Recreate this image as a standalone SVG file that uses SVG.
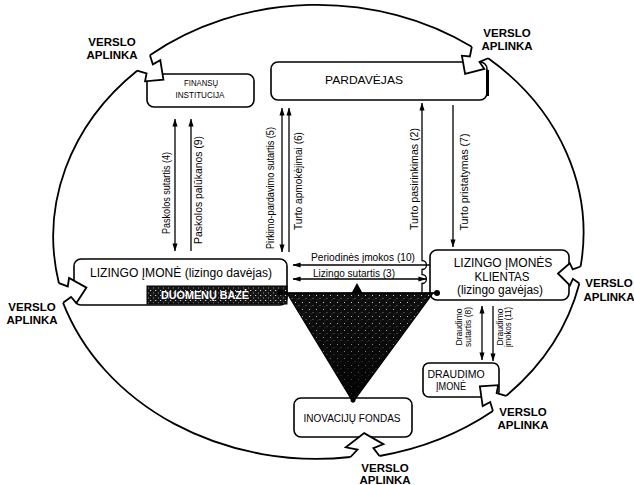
<svg xmlns="http://www.w3.org/2000/svg" xmlns:xlink="http://www.w3.org/1999/xlink" width="634" height="485" viewBox="0 0 634 485">
<style>
.box{fill:#fff;stroke:#000;stroke-width:1.6}
.ring{fill:none;stroke:#000;stroke-width:1.8}
.va{fill:#fff;stroke:#000;stroke-width:1.8;stroke-linejoin:miter}
.ln{fill:none;stroke:#000;stroke-width:1.3}
text{font-family:"Liberation Sans",Arial,Helvetica,sans-serif;fill:#000}
.env{font-weight:bold;font-size:11.5px;text-anchor:middle}
.lbl{font-size:10px}
.mid{text-anchor:middle}
.both{marker-start:url(#ah);marker-end:url(#ah)}
.end{marker-end:url(#ah)}
</style>
<defs>
<marker id="ah" viewBox="0 0 10 10" refX="9.5" refY="5" markerWidth="8" markerHeight="8" markerUnits="userSpaceOnUse" orient="auto-start-reverse">
<path d="M0,1.8 L10,5 L0,8.2 z" fill="#000"/>
</marker>
<pattern id="stip" width="7" height="7" patternUnits="userSpaceOnUse">
<rect width="7" height="7" fill="#0f0f0f"/>
<rect x="1" y="1" width="1" height="1" fill="#d8d8d8"/>
<rect x="4.5" y="4" width="1" height="1" fill="#8a8a8a"/>
<rect x="2.5" y="5.5" width="0.8" height="0.8" fill="#666"/>
</pattern>
<pattern id="stip2" width="5" height="5" patternUnits="userSpaceOnUse">
<rect width="5" height="5" fill="#151515"/>
<rect x="0" y="0" width="1.2" height="1" fill="#d0d0d0"/>
<rect x="3" y="2.5" width="1" height="1" fill="#999"/>
</pattern>
<linearGradient id="shade" x1="0" y1="0" x2="0" y2="1">
<stop offset="0" stop-color="#000" stop-opacity="0"/>
<stop offset="0.45" stop-color="#000" stop-opacity="0.35"/>
<stop offset="1" stop-color="#000" stop-opacity="0.85"/>
</linearGradient>
<path id="vaShape" vector-effect="non-scaling-stroke" d="M0,-10 L8,-5 L11,-13 L26,0 L13,13 L9,6 L0,10"/>
</defs>
<rect width="634" height="485" fill="#fff"/>

<g id="environment">
<path class="ring" d="M149.9,55.3 A267,228 0 0 1 471.8,46.8"/>
<path class="ring" d="M488.2,58.2 A267,228 0 0 1 580.6,266.5"/>
<path class="ring" d="M579.4,283.5 A267,228 0 0 1 506.1,395.9"/>
<path class="ring" d="M492.9,411.1 A267,228 0 0 1 379.5,456"/>
<path class="ring" d="M350.5,457 A267,228 0 0 1 63.1,302.8"/>
<path class="ring" d="M58.9,283.2 A267,228 0 0 1 137.1,70.7"/>
</g>

<g id="connectors">
<line class="ln both" x1="175" y1="119" x2="175" y2="251"/>
<line class="ln end" x1="191" y1="251" x2="191" y2="119"/>
<line class="ln both" x1="282" y1="108" x2="282" y2="252"/>
<line class="ln end" x1="289" y1="252" x2="289" y2="108"/>
<path class="ln end" d="M422,293 L422,283.5 A4.5,4.5 0 0 0 422,274.5 L422,269.5 A4.5,4.5 0 0 0 422,260.5 L422,103"/>
<line class="ln end" x1="453" y1="105" x2="453" y2="247"/>
<line class="ln end" x1="430" y1="265" x2="293" y2="265"/>
<line class="ln both" x1="293" y1="279" x2="426" y2="279"/>
<line class="ln both" x1="482" y1="306" x2="482" y2="360"/>
<line class="ln end" x1="493" y1="306" x2="493" y2="361"/>
<g class="lbl">
<text class="mid" transform="translate(166,193) rotate(-90)" y="3.5" textLength="82" lengthAdjust="spacingAndGlyphs">Paskolos sutartis (4)</text>
<text class="mid" transform="translate(198,190) rotate(-90)" y="3.5" textLength="108" lengthAdjust="spacingAndGlyphs">Paskolos palūkanos (9)</text>
<text class="mid" transform="translate(270,188) rotate(-90)" y="3.5" textLength="122" lengthAdjust="spacingAndGlyphs">Pirkimo-pardavimo sutartis (5)</text>
<text class="mid" transform="translate(298,181) rotate(-90)" y="3.5" textLength="98" lengthAdjust="spacingAndGlyphs">Turto apmokėjimai (6)</text>
<text class="mid" transform="translate(414,179) rotate(-90)" y="3.5" textLength="102" lengthAdjust="spacingAndGlyphs">Turto pasirinkimas (2)</text>
<text class="mid" transform="translate(464,182) rotate(-90)" y="3.5" textLength="97" lengthAdjust="spacingAndGlyphs">Turto pristatymas (7)</text>
<text class="mid" x="363" y="261" textLength="104" lengthAdjust="spacingAndGlyphs">Periodinės įmokos (10)</text>
<text class="mid" x="354" y="277" textLength="82" lengthAdjust="spacingAndGlyphs">Lizingo sutartis (3)</text>
<g style="font-size:9px">
<text class="mid" transform="translate(459,327) rotate(-90)" y="3.2" textLength="37" lengthAdjust="spacingAndGlyphs">Draudimo</text>
<text class="mid" transform="translate(468,327) rotate(-90)" y="3.2" textLength="40" lengthAdjust="spacingAndGlyphs">sutartis (8)</text>
<text class="mid" transform="translate(500,327) rotate(-90)" y="3.2" textLength="37" lengthAdjust="spacingAndGlyphs">Draudimo</text>
<text class="mid" transform="translate(508,327) rotate(-90)" y="3.2" textLength="40" lengthAdjust="spacingAndGlyphs">įmokos (11)</text>
</g>
</g>
</g>

<g id="node-finansu-institucija">
<rect class="box" x="147" y="74" width="107" height="33" rx="7"/>
<text class="mid" x="201" y="86" font-size="9.5" textLength="34" lengthAdjust="spacingAndGlyphs">FINANSŲ</text>
<text class="mid" x="200" y="97.5" font-size="9.5" textLength="49" lengthAdjust="spacingAndGlyphs">INSTITUCIJA</text>
</g>

<g id="node-pardavejas">
<rect class="box" x="271" y="62" width="216" height="38" rx="7"/>
<line x1="487.5" y1="70" x2="487.5" y2="96" stroke="#000" stroke-width="3"/>
<text class="mid" x="364" y="84" font-size="11.5" textLength="78" lengthAdjust="spacingAndGlyphs">PARDAVĖJAS</text>
</g>

<g id="node-lizingo-imone">
<rect class="box" x="74" y="259" width="213" height="46" rx="7"/>
<text class="mid" x="181" y="277" font-size="12" textLength="182" lengthAdjust="spacingAndGlyphs">LIZINGO ĮMONĖ (lizingo davėjas)</text>
<g id="duomenu-baze">
<rect x="147" y="286" width="140" height="18" fill="url(#stip2)" stroke="#000" stroke-width="1"/>
<text class="mid" x="205" y="299" font-size="10.5" font-weight="bold" style="fill:#fff" textLength="88" lengthAdjust="spacingAndGlyphs">DUOMENŲ BAZĖ</text>
</g>
</g>

<g id="node-klientas">
<rect class="box" x="430" y="250" width="139" height="50" rx="7"/>
<text class="mid" x="503" y="267" font-size="12">LIZINGO ĮMONĖS</text>
<text class="mid" x="502" y="280.5" font-size="12" textLength="55" lengthAdjust="spacingAndGlyphs">KLIENTAS</text>
<text class="mid" x="500" y="294" font-size="12" textLength="86" lengthAdjust="spacingAndGlyphs">(lizingo gavėjas)</text>
</g>

<g id="node-draudimo-imone">
<rect class="box" x="423" y="363" width="76" height="34" rx="6"/>
<text class="mid" x="456" y="378" font-size="10.5">DRAUDIMO</text>
<text class="mid" x="451" y="389.5" font-size="10.5" textLength="30" lengthAdjust="spacingAndGlyphs">ĮMONĖ</text>
</g>

<g id="node-inovaciju-fondas">
<rect class="box" x="294" y="398" width="118" height="39" rx="7"/>
<text class="mid" x="352" y="422" font-size="10">INOVACIJŲ FONDAS</text>
</g>

<g id="funnel">
<path d="M287,293 L433,293 L353,402 Z" fill="url(#stip)" stroke="#000" stroke-width="1.2"/>
<path d="M287,293 L433,293 L353,402 Z" fill="url(#shade)"/>
<line class="ln" x1="280" y1="293" x2="437" y2="293" stroke-width="1.6"/>
<path d="M357,283 L351.5,293 L362.5,293 Z" fill="#000"/>
<circle cx="280" cy="292.5" r="3" fill="#000"/>
<circle cx="437" cy="293" r="3" fill="#000"/>
<circle cx="353" cy="400" r="2.5" fill="#000"/>
</g>

<g id="environment-arrows">
<use xlink:href="#vaShape" class="va" transform="translate(143.5,63) rotate(40)"/>
<use xlink:href="#vaShape" class="va" transform="translate(480,52.5) rotate(125)"/>
<use xlink:href="#vaShape" class="va" transform="translate(580,275) rotate(184) scale(0.85)"/>
<use xlink:href="#vaShape" class="va" transform="translate(61,293) rotate(-12)"/>
<use xlink:href="#vaShape" class="va" transform="translate(499.5,403.5) rotate(221)"/>
<use xlink:href="#vaShape" class="va" transform="translate(365,456.5) rotate(-92) scale(0.9,1.45)"/>
<text class="env" x="112" y="46">VERSLO</text>
<text class="env" x="112" y="58.5">APLINKA</text>
<text class="env" x="507" y="37">VERSLO</text>
<text class="env" x="507" y="50">APLINKA</text>
<text class="env" x="609" y="287">VERSLO</text>
<text class="env" x="609" y="301">APLINKA</text>
<text class="env" x="32" y="311">VERSLO</text>
<text class="env" x="32" y="324">APLINKA</text>
<text class="env" x="523" y="416">VERSLO</text>
<text class="env" x="523" y="429">APLINKA</text>
<text class="env" x="385" y="472">VERSLO</text>
<text class="env" x="385" y="484">APLINKA</text>
</g>
</svg>
